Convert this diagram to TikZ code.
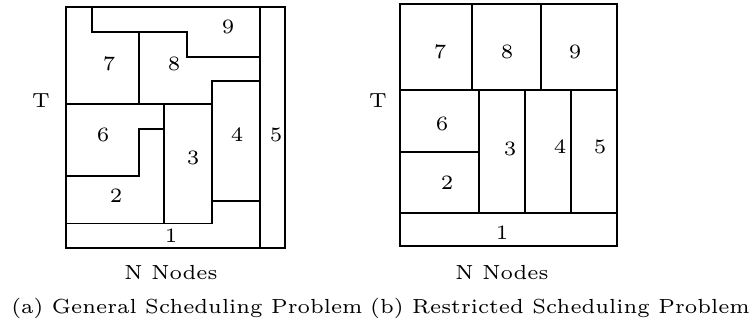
\documentclass[tikz,border=0pt]{standalone}
\newcommand\smalltxt[1]{\scalebox{3.4}{\fontsize{6}{7}\selectfont #1}}
\begin{document}
\begin{tikzpicture}[x=1pt,y=-1pt,
  part/.style={line width=1.6pt,line cap=rect,line join=miter},
  lab/.style={inner sep=0pt,anchor=center}]
\useasboundingbox (0,0) rectangle (749,329);
% ---------- (a) general ----------
\draw[part] (66,7) rectangle (285,248);
\draw[part] (260,7) -- (260,248);
\draw[part] (91.7,7) -- (91.7,32) -- (186.7,32) -- (186.7,57) -- (260,57);
\draw[part] (139,32) -- (139,104);
\draw[part] (66,104) -- (211.7,104);
\draw[part] (211.7,223.5) -- (211.7,80.7) -- (260,80.7);
\draw[part] (164,104) -- (164,223.5);
\draw[part] (164,128.7) -- (139,128.7) -- (139,175.7) -- (66,175.7);
\draw[part] (66,223.5) -- (211.7,223.5);
\draw[part] (211.7,200.7) -- (260,200.7);
\node[lab] (a9) at (228,27) {\smalltxt{9}};
\node[lab] (a7) at (109,64) {\smalltxt{7}};
\node[lab] (a8) at (174,64) {\smalltxt{8}};
\node[lab] (a6) at (103,135) {\smalltxt{6}};
\node[lab] (a4) at (237,135) {\smalltxt{4}};
\node[lab] (a5) at (276,135) {\smalltxt{5}};
\node[lab] (a3) at (193,158) {\smalltxt{3}};
\node[lab] (a2) at (116,196) {\smalltxt{2}};
\node[lab] (a1) at (171,236) {\smalltxt{1}};
\node[lab] (aT) at (41,101) {\smalltxt{T}};
\node[lab] (aN) at (171,273) {\smalltxt{N Nodes}};
\node[lab] (aC) at (187,308) {\smalltxt{(a) General Scheduling Problem}};
% ---------- (b) restricted ----------
\draw[part] (400,4) rectangle (617,246);
\draw[part] (400,90) -- (617,90);
\draw[part] (471.7,4) -- (471.7,90);
\draw[part] (541,4) -- (541,90);
\draw[part] (400,213) -- (617,213);
\draw[part] (479,90) -- (479,213);
\draw[part] (525,90) -- (525,213);
\draw[part] (571,90) -- (571,213);
\draw[part] (400,152) -- (479,152);
\node[lab] (b7) at (440,52) {\smalltxt{7}};
\node[lab] (b8) at (507,52) {\smalltxt{8}};
\node[lab] (b9) at (575,52) {\smalltxt{9}};
\node[lab] (b6) at (442,124) {\smalltxt{6}};
\node[lab] (b3) at (510,149) {\smalltxt{3}};
\node[lab] (b4) at (560,147) {\smalltxt{4}};
\node[lab] (b5) at (600,147) {\smalltxt{5}};
\node[lab] (b2) at (447,183) {\smalltxt{2}};
\node[lab] (b1) at (502,233) {\smalltxt{1}};
\node[lab] (bT) at (378,101) {\smalltxt{T}};
\node[lab] (bN) at (502,273) {\smalltxt{N Nodes}};
\node[lab] (bC) at (560,308) {\smalltxt{(b) Restricted Scheduling Problem}};
\end{tikzpicture}
\end{document}
